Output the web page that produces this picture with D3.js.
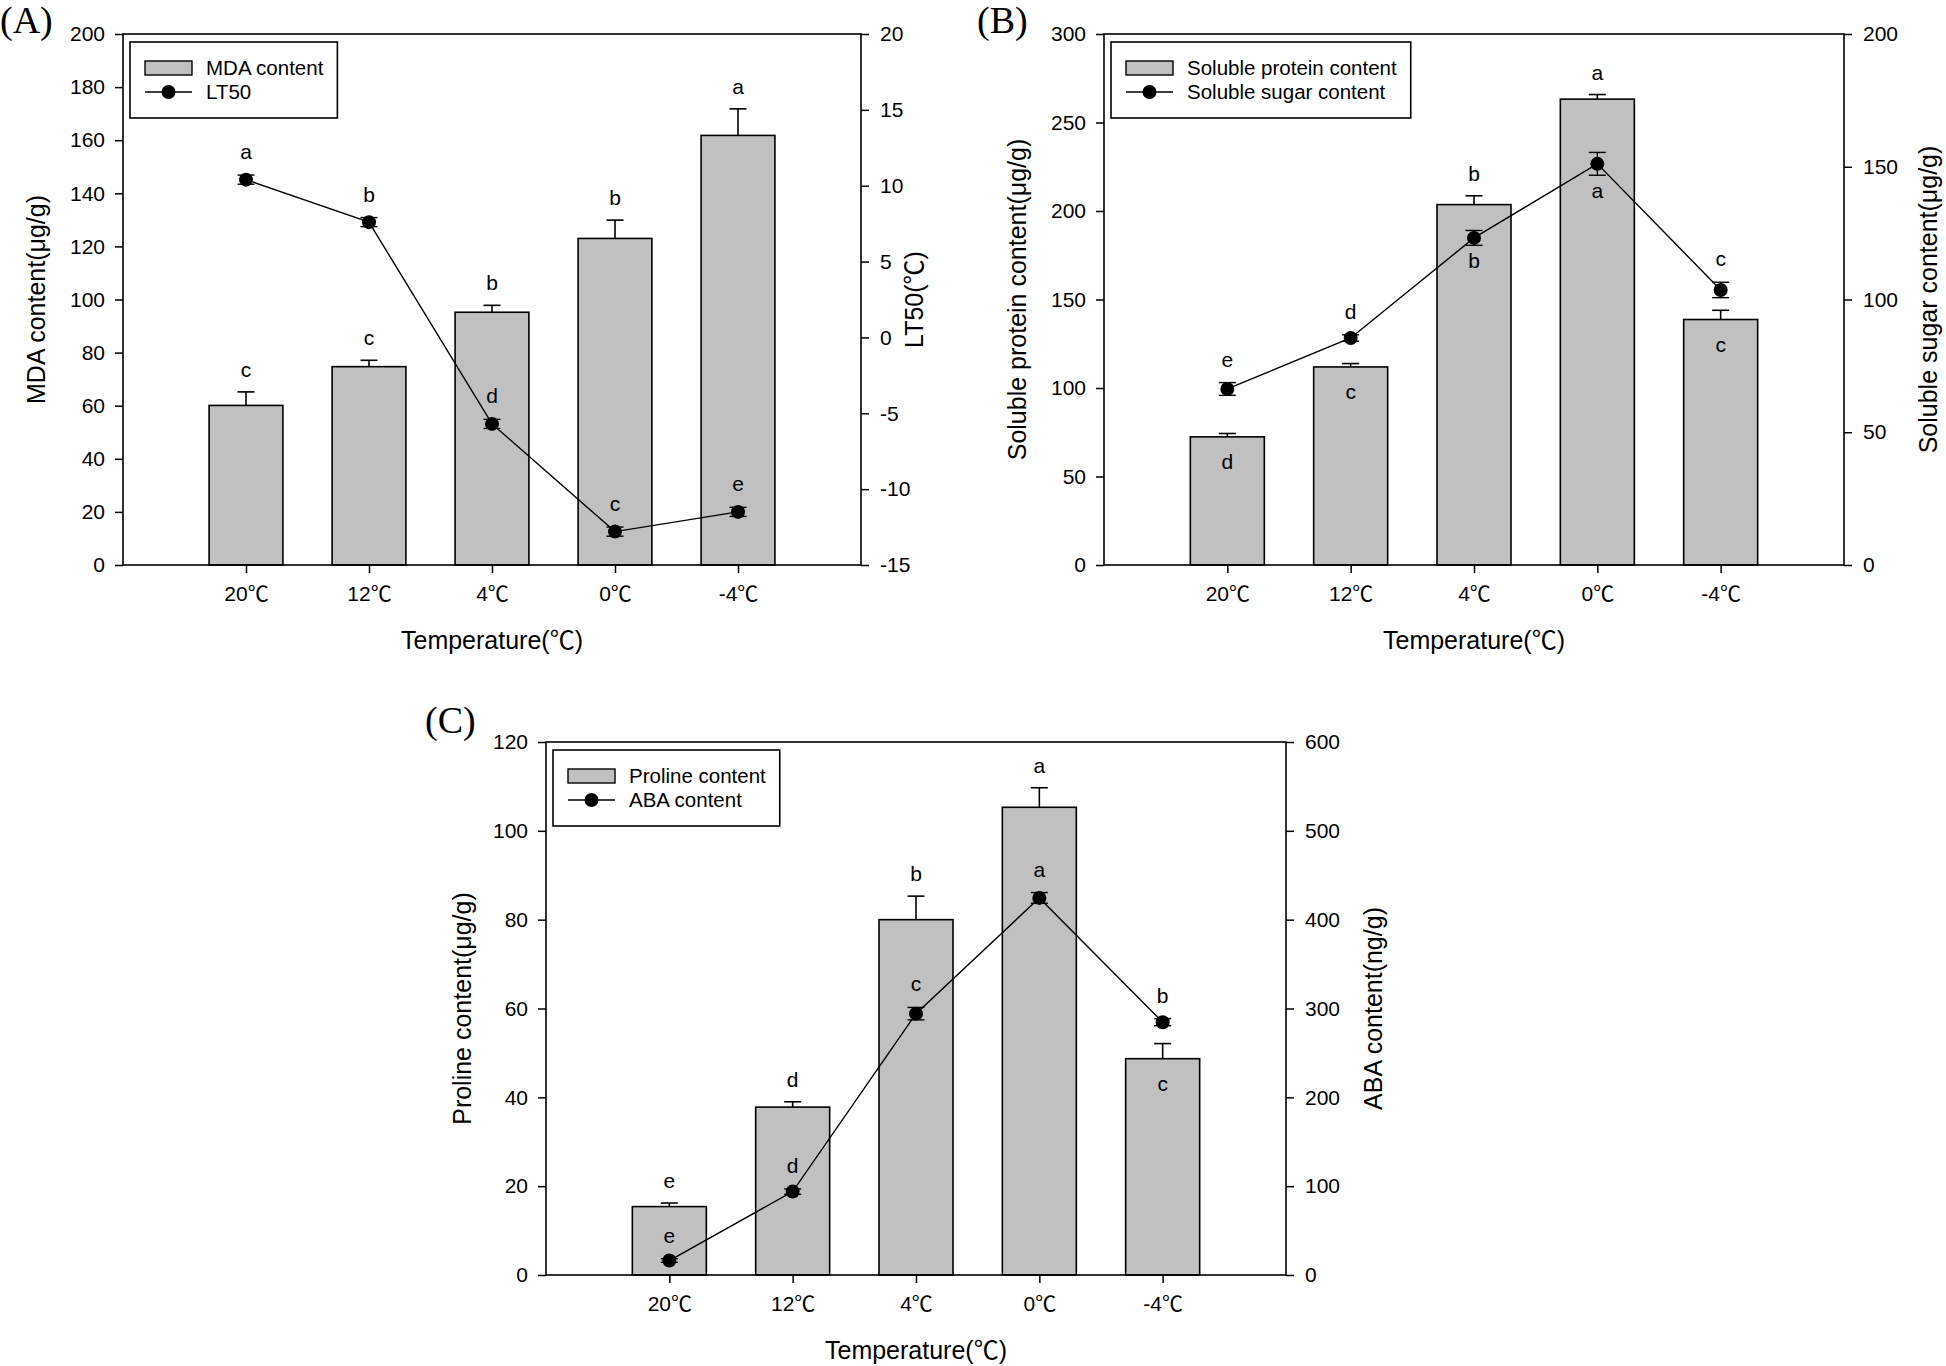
<!DOCTYPE html>
<html>
<head>
<meta charset="utf-8">
<script src="https://cdn.jsdelivr.net/npm/d3@7"></script>
<style>
  html, body { margin: 0; padding: 0; background: #fff; }
  svg { display: block; }
  text { font-family: "Liberation Sans", Arial, "Noto Sans CJK SC", sans-serif; fill: #000; }
  .panel-label { font-family: "Liberation Serif", "Times New Roman", serif; }
  .cjk { font-family: "Noto Sans CJK SC", sans-serif; }
</style>
</head>
<body>
<svg id="chart" width="1946" height="1366"></svg>
<script>
// ---------- data ----------
const categories = ["20℃", "12℃", "4℃", "0℃", "-4℃"];

// Panel A
const mdaContent = [60.1, 74.7, 95.2, 123.0, 161.8];
const mdaErr = [5.1, 2.4, 2.6, 6.9, 10.0];
const mdaLetters = ["c", "c", "b", "b", "a"];
const mdaLetterPos = ["above", "above", "above", "above", "above"];
const lt50 = [10.4, 7.6, -5.7, -12.8, -11.5];
const lt50Err = [0.3, 0.3, 0.3, 0.3, 0.3];
const lt50Letters = ["a", "b", "d", "c", "e"];
const lt50LetterPos = ["above", "above", "above", "above", "above"];
const mdaTicks = [0, 20, 40, 60, 80, 100, 120, 140, 160, 180, 200];
const lt50Ticks = [-15, -10, -5, 0, 5, 10, 15, 20];

// Panel B
const proteinContent = [72.4, 111.9, 203.6, 263.2, 138.7];
const proteinErr = [1.9, 1.9, 5.0, 2.6, 5.2];
const proteinLetters = ["d", "c", "b", "a", "c"];
const proteinLetterPos = ["inside", "inside", "above", "above", "inside"];
const sugarContent = [66.3, 85.5, 123.2, 151.1, 103.6];
const sugarErr = [2.4, 1.2, 2.8, 4.3, 2.9];
const sugarLetters = ["e", "d", "b", "a", "c"];
const sugarLetterPos = ["above", "above", "below", "below", "above"];
const proteinTicks = [0, 50, 100, 150, 200, 250, 300];
const sugarTicks = [0, 50, 100, 150, 200];

// Panel C
const prolineContent = [15.4, 37.8, 80.0, 105.3, 48.7];
const prolineErr = [0.8, 1.2, 5.3, 4.4, 3.4];
const prolineLetters = ["e", "d", "b", "a", "c"];
const prolineLetterPos = ["above", "above", "above", "above", "inside"];
const abaContent = [16.3, 93.9, 294.2, 424.5, 284.6];
const abaErr = [2, 3, 7, 6, 4];
const abaLetters = ["e", "d", "c", "a", "b"];
const abaLetterPos = ["above", "above", "above", "above", "above"];
const prolineTicks = [0, 20, 40, 60, 80, 100, 120];
const abaTicks = [0, 100, 200, 300, 400, 500, 600];

// ---------- drawing ----------
const svg = d3.select("#chart");
svg.append("rect").attr("width", 1946).attr("height", 1366).attr("fill", "#fff");

// write a string into a text node, rendering ℃ with the CJK font
function setDegText(sel, str) {
  sel.text(null);
  const parts = str.split("℃");
  parts.forEach((p, k) => {
    if (p) sel.append("tspan").text(p);
    if (k < parts.length - 1) sel.append("tspan").attr("class", "cjk").text("℃");
  });
}

function drawPanel(cfg) {
  const { L, R, T, B } = cfg.box;
  const g = svg.append("g");
  const x = d3.scaleLinear().domain([0, 6]).range([L, R]);
  const yL = d3.scaleLinear().domain(cfg.leftDomain).range([B, T]);
  const yR = d3.scaleLinear().domain(cfg.rightDomain).range([B, T]);
  const idx = d3.range(categories.length);
  const bw = (x(1) - x(0)) * 0.6;

  // bars
  g.selectAll(".bar").data(idx).enter().append("rect")
    .attr("x", i => x(i + 1) - bw / 2)
    .attr("y", i => yL(cfg.bars[i]))
    .attr("width", bw)
    .attr("height", i => yL(0) - yL(cfg.bars[i]))
    .attr("fill", "#c0c0c0").attr("stroke", "#000").attr("stroke-width", 1.6);

  // bar error bars (upward only)
  const cap = 8.5;
  idx.forEach(i => {
    const cx = x(i + 1);
    g.append("line").attr("x1", cx).attr("x2", cx)
      .attr("y1", yL(cfg.bars[i])).attr("y2", yL(cfg.bars[i] + cfg.barErr[i]))
      .attr("stroke", "#000").attr("stroke-width", 1.6);
    g.append("line").attr("x1", cx - cap).attr("x2", cx + cap)
      .attr("y1", yL(cfg.bars[i] + cfg.barErr[i])).attr("y2", yL(cfg.bars[i] + cfg.barErr[i]))
      .attr("stroke", "#000").attr("stroke-width", 1.6);
  });

  // frame
  g.append("rect").attr("x", L).attr("y", T).attr("width", R - L).attr("height", B - T)
    .attr("fill", "none").attr("stroke", "#000").attr("stroke-width", 1.6);

  // line series
  const line = d3.line().x(i => x(i + 1)).y(i => yR(cfg.pts[i]));
  g.append("path").datum(idx).attr("d", line)
    .attr("fill", "none").attr("stroke", "#000").attr("stroke-width", 1.4);
  idx.forEach(i => {
    const cx = x(i + 1);
    const y1 = yR(cfg.pts[i] - cfg.ptErr[i]), y2 = yR(cfg.pts[i] + cfg.ptErr[i]);
    g.append("line").attr("x1", cx).attr("x2", cx).attr("y1", y1).attr("y2", y2)
      .attr("stroke", "#000").attr("stroke-width", 1.4);
    [y1, y2].forEach(yy => g.append("line").attr("x1", cx - cap).attr("x2", cx + cap)
      .attr("y1", yy).attr("y2", yy).attr("stroke", "#000").attr("stroke-width", 1.4));
  });
  g.selectAll(".pt").data(idx).enter().append("circle")
    .attr("cx", i => x(i + 1)).attr("cy", i => yR(cfg.pts[i])).attr("r", 7).attr("fill", "#000");

  // letters
  const lf = 21;
  idx.forEach(i => {
    let cy;
    if (cfg.barLetterPos[i] === "above") cy = yL(cfg.bars[i] + cfg.barErr[i]) - 21;
    else cy = yL(cfg.bars[i]) + 26;
    g.append("text").attr("x", x(i + 1)).attr("y", cy + 6).attr("text-anchor", "middle")
      .attr("font-size", lf).text(cfg.barLetters[i]);
    let py;
    if (cfg.ptLetterPos[i] === "above") py = yR(cfg.pts[i] + cfg.ptErr[i]) - 22;
    else py = yR(cfg.pts[i] - cfg.ptErr[i]) + 17;
    g.append("text").attr("x", x(i + 1)).attr("y", py + 6).attr("text-anchor", "middle")
      .attr("font-size", lf).text(cfg.ptLetters[i]);
  });

  // axes
  const fmt = d => String(d);
  const axL = g.append("g").attr("transform", `translate(${L},0)`)
    .call(d3.axisLeft(yL).tickValues(cfg.leftTicks).tickFormat(fmt).tickSize(8).tickPadding(10).tickSizeOuter(0));
  const axR = g.append("g").attr("transform", `translate(${R},0)`)
    .call(d3.axisRight(yR).tickValues(cfg.rightTicks).tickFormat(fmt).tickSize(8).tickPadding(11).tickSizeOuter(0));
  const axB = g.append("g").attr("transform", `translate(0,${B})`)
    .call(d3.axisBottom(x).tickValues([1, 2, 3, 4, 5]).tickFormat(v => categories[v - 1])
      .tickSize(8).tickPadding(13).tickSizeOuter(0));
  [axL, axR, axB].forEach(a => {
    a.attr("font-family", null);
    a.select(".domain").remove();
    a.selectAll(".tick line").attr("stroke", "#000").attr("stroke-width", 1.5);
    a.selectAll(".tick text").attr("font-size", 21).attr("fill", "#000");
  });
  axB.selectAll(".tick text").each(function (v) { setDegText(d3.select(this), categories[v - 1]); });

  // axis titles
  const cyMid = (T + B) / 2;
  g.append("text").attr("transform", `translate(${L - cfg.leftTitleOff},${cyMid}) rotate(-90)`)
    .attr("text-anchor", "middle").attr("font-size", 25).text(cfg.leftTitle);
  const rt = g.append("text").attr("transform", `translate(${R + cfg.rightTitleOff},${cyMid}) rotate(-90)`)
    .attr("text-anchor", "middle").attr("font-size", 25);
  setDegText(rt, cfg.rightTitle);
  const xt = g.append("text").attr("x", (L + R) / 2).attr("y", B + 84).attr("text-anchor", "middle")
    .attr("font-size", 25);
  setDegText(xt, "Temperature(℃)");

  // panel label
  g.append("text").attr("class", "panel-label").attr("x", cfg.labelX).attr("y", cfg.labelY)
    .attr("font-size", 38).text(cfg.label);

  // legend
  const lx = L + 7, ly = T + 8;
  const lg = g.append("g");
  const box = lg.append("rect").attr("x", lx).attr("y", ly).attr("height", 76)
    .attr("fill", "#fff").attr("stroke", "#000").attr("stroke-width", 1.6);
  lg.append("rect").attr("x", lx + 15).attr("y", ly + 19).attr("width", 47).attr("height", 14)
    .attr("fill", "#c0c0c0").attr("stroke", "#000").attr("stroke-width", 1.4);
  lg.append("line").attr("x1", lx + 15).attr("x2", lx + 62).attr("y1", ly + 50).attr("y2", ly + 50)
    .attr("stroke", "#000").attr("stroke-width", 1.4);
  lg.append("circle").attr("cx", lx + 38.5).attr("cy", ly + 50).attr("r", 7).attr("fill", "#000");
  const t1 = lg.append("text").attr("x", lx + 76).attr("y", ly + 33).attr("font-size", 20.5).text(cfg.barName);
  const t2 = lg.append("text").attr("x", lx + 76).attr("y", ly + 57).attr("font-size", 20.5).text(cfg.ptName);
  const w = Math.max(t1.node().getComputedTextLength(), t2.node().getComputedTextLength());
  box.attr("width", 76 + w + 14);
}

drawPanel({
  box: { L: 123, R: 861, T: 34, B: 565 },
  label: "(A)", labelX: 0, labelY: 33,
  leftDomain: [0, 200], rightDomain: [-15, 20],
  leftTicks: mdaTicks, rightTicks: lt50Ticks,
  bars: mdaContent, barErr: mdaErr, barLetters: mdaLetters, barLetterPos: mdaLetterPos,
  pts: lt50, ptErr: lt50Err, ptLetters: lt50Letters, ptLetterPos: lt50LetterPos,
  leftTitle: "MDA content(μg/g)", rightTitle: "LT50(℃)",
  leftTitleOff: 78, rightTitleOff: 62,
  barName: "MDA content", ptName: "LT50"
});

drawPanel({
  box: { L: 1104, R: 1844, T: 34, B: 565 },
  label: "(B)", labelX: 977, labelY: 33,
  leftDomain: [0, 300], rightDomain: [0, 200],
  leftTicks: proteinTicks, rightTicks: sugarTicks,
  bars: proteinContent, barErr: proteinErr, barLetters: proteinLetters, barLetterPos: proteinLetterPos,
  pts: sugarContent, ptErr: sugarErr, ptLetters: sugarLetters, ptLetterPos: sugarLetterPos,
  leftTitle: "Soluble protein content(μg/g)", rightTitle: "Soluble sugar content(μg/g)",
  leftTitleOff: 78, rightTitleOff: 93,
  barName: "Soluble protein content", ptName: "Soluble sugar content"
});

drawPanel({
  box: { L: 546, R: 1286, T: 742, B: 1275 },
  label: "(C)", labelX: 425, labelY: 733,
  leftDomain: [0, 120], rightDomain: [0, 600],
  leftTicks: prolineTicks, rightTicks: abaTicks,
  bars: prolineContent, barErr: prolineErr, barLetters: prolineLetters, barLetterPos: prolineLetterPos,
  pts: abaContent, ptErr: abaErr, ptLetters: abaLetters, ptLetterPos: abaLetterPos,
  leftTitle: "Proline content(μg/g)", rightTitle: "ABA content(ng/g)",
  leftTitleOff: 75, rightTitleOff: 96,
  barName: "Proline content", ptName: "ABA content"
});
</script>
</body>
</html>
